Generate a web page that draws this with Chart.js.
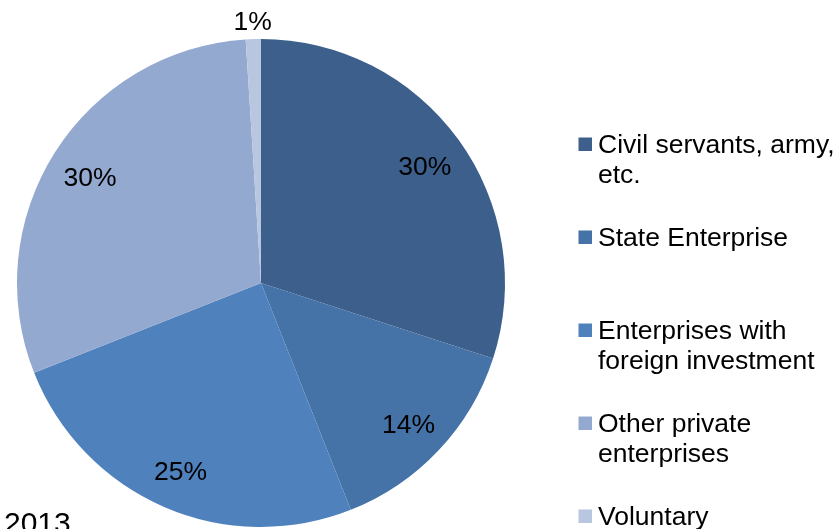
<!DOCTYPE html>
<html>
<head>
<meta charset="utf-8">
<script src="https://cdn.jsdelivr.net/npm/chart.js@4/dist/chart.umd.min.js"></script>
<style>
html,body{margin:0;padding:0;background:#fff;overflow:hidden}
#wrap{width:839px;height:529px;position:relative}
</style>
</head>
<body>
<div id="wrap"><canvas id="pie" width="839" height="529"></canvas></div>
<script>
// employment by sector, 2013 (share in %)
const categories=[
["Civil servants, army,","etc."],
["State Enterprise"],
["Enterprises with","foreign investment"],
["Other private","enterprises"],
["Voluntary"]
]
const shares=[30,14,25,30,1]
const colors=["#3C5F8C","#4572A7","#4F81BD","#94A9D0","#B9C6E0"]
const yearLabel="2013"

const FONT="26.5px 'Liberation Sans', Arial, sans-serif"

// percent labels inside slices, tiny slices get theirs outside
const sliceLabels={
id:"sliceLabels",
afterDatasetsDraw(chart){
const ctx=chart.ctx
const meta=chart.getDatasetMeta(0)
const data=chart.data.datasets[0].data
ctx.save()
ctx.font=FONT
ctx.fillStyle="#000"
ctx.textAlign="center"
ctx.textBaseline="middle"
meta.data.forEach((arc,i)=>{
const p=arc.getProps(["x","y","startAngle","endAngle","outerRadius"],true)
const mid=(p.startAngle+p.endAngle)/2
const r=data[i]<3 ? p.outerRadius+20 : p.outerRadius*0.83
ctx.fillText(data[i]+"%",p.x+Math.cos(mid)*r,p.y+Math.sin(mid)*r+4)
})
ctx.restore()
}
}

// legend on the right with wrapped entries, plus the year caption
const sideLegend={
id:"sideLegend",
afterDraw(chart){
const ctx=chart.ctx
const bg=chart.data.datasets[0].backgroundColor
ctx.save()
ctx.font=FONT
ctx.textBaseline="middle"
ctx.textAlign="left"
chart.data.labels.forEach((lines,i)=>{
const y=145+i*93
ctx.fillStyle=bg[i]
ctx.fillRect(578.5,y-7.5,13.5,13.5)
ctx.fillStyle="#000"
lines.forEach((t,j)=>ctx.fillText(t,598,y+1+j*30))
})
ctx.font="30px 'Liberation Sans', Arial, sans-serif"
ctx.textBaseline="alphabetic"
ctx.fillText(yearLabel,4,533)
ctx.restore()
}
}

new Chart(document.getElementById("pie"),{
type:"pie",
data:{labels:categories,datasets:[{data:shares,backgroundColor:colors,borderWidth:0}]},
options:{
responsive:false,
animation:false,
layout:{padding:{left:17,top:39,right:334,bottom:2}},
plugins:{legend:{display:false},tooltip:{enabled:false}}
},
plugins:[sliceLabels,sideLegend]
})
</script>
</body>
</html>
